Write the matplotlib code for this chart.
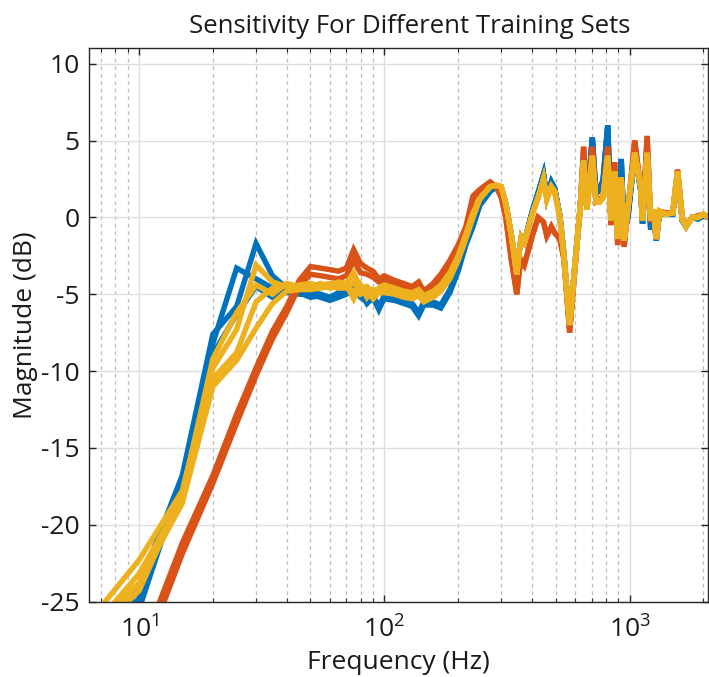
import matplotlib
matplotlib.use('Agg')
import matplotlib.pyplot as plt
from matplotlib.ticker import LogLocator, NullFormatter

plt.rcParams['font.family'] = ['Open Sans', 'DejaVu Sans']
plt.rcParams['axes.unicode_minus'] = False

# frequency grids (Hz): low end every 5 Hz, mid band, and the resonant tail
freq_low = [5, 10, 15, 20, 25, 30, 35, 40, 45, 50, 55, 60, 65, 70, 75, 80, 85, 90, 95]
freq_mid = [100, 110, 120, 130, 138, 145, 158, 170, 185, 200, 215, 230]
freq_tail = [245, 270, 286, 300, 313, 330, 347, 355, 362, 372, 403, 424, 446, 460,
             480, 495, 520, 540, 570, 592, 612, 628, 650, 670, 705, 730, 755, 780,
             815, 840, 870, 895, 925, 950, 985, 1050, 1110, 1130, 1180, 1220, 1255,
             1285, 1325, 1400, 1500, 1570, 1640, 1700, 1800, 1900, 2000, 2100]

# magnitude (dB), one row per trained model
blue_low = [
    [-32.5, -24.0, -16.8, -7.6, -5.8, -1.7, -3.8, -4.6, -4.8, -4.9, -5.0, -5.2, -4.9, -4.8, -4.3, -4.9, -5.4, -5.1, -5.8],
    [-31.0, -24.8, -17.3, -8.2, -3.3, -4.0, -4.6, -4.9, -4.9, -5.2, -5.1, -5.3, -5.0, -4.9, -4.6, -5.2, -5.5, -5.3, -5.9],
    [-33.0, -25.5, -17.0, -8.9, -6.3, -4.5, -5.2, -4.7, -5.0, -5.0, -5.2, -5.4, -5.2, -5.0, -4.7, -4.8, -5.6, -5.2, -6.0],
]
blue_mid = [
    [-5.1, -5.2, -5.4, -5.6, -6.2, -5.5, -5.5, -5.7, -4.7, -3.3, -1.6, -0.4],
    [-5.3, -5.4, -5.6, -5.8, -6.4, -5.7, -5.7, -5.9, -4.9, -3.5, -1.8, -0.6],
    [-5.2, -5.3, -5.5, -5.7, -6.3, -5.6, -5.6, -5.8, -4.8, -3.4, -1.7, -0.5],
]
blue_tail = [0.8, 1.7, 2.0, 1.9, 0.9, -1.2, -3.7, -2.2, -1.3, -1.6, 0.5, 1.6, 2.8, 1.3,
             2.3, 1.9, 0.1, -2.4, -7.1, -4.0, -1.4, 0.5, 3.7, 0.7, 5.2, 1.5, 1.9, 2.4,
             6.0, 0.0, 3.0, -1.2, 3.8, -1.0, 0.0, 4.2, 1.8, -0.4, 4.2, -0.8, 0.3,
             -1.5, 0.3, 0.2, 0.2, 2.9, -0.2, -0.6, 0.0, -0.1, 0.1, 0.0]

orange_low = [
    [-40.0, -28.5, -21.2, -16.8, -12.8, -9.8, -7.4, -5.8, -4.1, -3.2, -3.3, -3.4, -3.5, -3.3, -2.1, -3.0, -3.3, -3.5, -4.0],
    [-41.0, -29.3, -21.9, -17.3, -13.4, -10.3, -7.9, -6.2, -4.5, -3.7, -3.8, -3.9, -4.0, -3.8, -2.8, -3.6, -3.7, -3.9, -4.2],
]
orange_mid = [
    [-3.8, -4.1, -4.3, -4.5, -4.2, -4.8, -4.3, -3.7, -2.8, -1.8, -0.6, 1.4],
    [-4.1, -4.4, -4.6, -4.8, -4.5, -5.1, -4.6, -4.0, -3.0, -2.0, -0.8, 1.2],
]
orange_tail = [1.8, 2.3, 2.0, 1.3, 0.0, -2.8, -5.0, -3.5, -2.8, -3.1, -1.1, 0.0, -0.3, -1.2,
               -0.6, -1.0, -1.4, -2.7, -7.5, -4.3, -1.6, 0.4, 4.6, 0.5, 4.6, 1.0, 1.1, 1.4,
               4.6, -0.5, 3.6, -1.8, 2.2, -1.9, 0.5, 5.0, 1.9, -0.2, 5.3, -0.3, 0.4,
               -1.4, 0.4, 0.3, 0.3, 3.1, 0.0, -0.5, 0.0, 0.1, 0.2, 0.0]

yellow_low = [
    [-28.2, -22.3, -17.8, -9.8, -7.3, -3.1, -4.2, -4.5, -4.4, -4.3, -4.5, -4.4, -4.2, -4.3, -3.6, -4.6, -4.5, -4.9, -4.6],
    [-28.8, -23.2, -18.3, -10.5, -8.8, -5.5, -4.6, -4.4, -4.6, -4.5, -4.3, -4.6, -4.5, -4.4, -5.3, -4.4, -5.2, -4.7, -4.8],
    [-28.6, -23.8, -18.6, -11.0, -9.3, -7.2, -5.6, -4.8, -4.7, -4.7, -4.6, -4.5, -4.6, -4.6, -4.2, -5.0, -4.8, -5.3, -4.9],
    [-28.9, -24.3, -18.0, -9.2, -6.2, -4.4, -5.0, -4.3, -4.5, -4.4, -4.4, -4.3, -4.4, -4.5, -4.8, -4.7, -4.6, -5.0, -4.7],
]
yellow_mid = [
    [-4.4, -4.6, -4.8, -4.9, -4.7, -5.1, -4.8, -4.4, -3.6, -2.5, -1.1, 0.3],
    [-4.7, -4.9, -5.1, -5.2, -5.0, -5.4, -5.1, -4.7, -3.9, -2.7, -1.3, 0.1],
    [-4.9, -5.0, -5.2, -5.3, -5.1, -5.5, -5.2, -4.8, -4.0, -2.8, -1.4, 0.0],
    [-4.5, -4.7, -4.9, -5.0, -4.8, -5.2, -4.9, -4.5, -3.7, -2.6, -1.2, 0.2],
]
yellow_tail = [1.2, 2.0, 2.1, 2.0, 0.9, -1.2, -3.7, -2.2, -1.3, -1.6, 0.3, 1.3, 2.5, 1.2,
               2.0, 1.7, 0.0, -2.5, -7.0, -4.0, -1.5, 0.5, 3.7, 0.5, 4.0, 1.0, 1.0, 1.3,
               4.0, -0.2, 3.0, -1.4, 2.6, -1.5, 0.6, 4.2, 2.0, -0.2, 4.2, -0.2, 0.5,
               -1.4, 0.4, 0.2, 0.3, 3.0, -0.1, -0.6, 0.0, 0.0, 0.2, 0.0]

colors = ['#0072BD', '#D95319', '#EDB120']
groups = [(blue_low, blue_mid, blue_tail),
          (orange_low, orange_mid, orange_tail),
          (yellow_low, yellow_mid, yellow_tail)]

fig = plt.figure(figsize=(7.09, 6.77), dpi=100)
ax = fig.add_axes([0.126, 0.1115, 0.873, 0.817])

freq = freq_low + freq_mid + freq_tail
for color, (lows, mids, tail) in zip(colors, groups):
    for low, mid in zip(lows, mids):
        ax.plot(freq, low + mid + tail, color=color, linewidth=3.9,
                solid_joinstyle='miter')

ax.set_xscale('log')
ax.set_xlim(6.27, 2095)
ax.set_ylim(-25, 11)
ax.set_yticks(range(-25, 11, 5))
ax.xaxis.set_major_locator(LogLocator(base=10, numticks=10))
ax.xaxis.set_minor_locator(LogLocator(base=10, subs=range(2, 10), numticks=20))
ax.xaxis.set_minor_formatter(NullFormatter())

ax.grid(True, which='major', color='#dedede', linewidth=1.0, linestyle='-')
ax.grid(True, which='minor', axis='x', color='#bdbdbd', linewidth=0.9,
        linestyle=(0, (3, 3)))
ax.set_axisbelow(True)

for s in ax.spines.values():
    s.set_color('#262626')
    s.set_linewidth(1.0)
ax.tick_params(which='both', direction='in', top=True, right=True,
               colors='#262626', labelcolor='#1a1a1a', labelsize=19)
ax.tick_params(which='major', length=5, width=1.0, pad=7)
ax.tick_params(which='minor', length=3, width=0.8)
ax.tick_params(axis='x', which='major', pad=11)

ax.set_title('Sensitivity For Different Training Sets', fontsize=18.5,
             color='#1a1a1a', x=0.518, pad=11)
ax.set_xlabel('Frequency (Hz)', fontsize=19, color='#1a1a1a', labelpad=4)
ax.set_ylabel('Magnitude (dB)', fontsize=19, color='#1a1a1a', labelpad=2)

fig.savefig('out.png', dpi=100)
